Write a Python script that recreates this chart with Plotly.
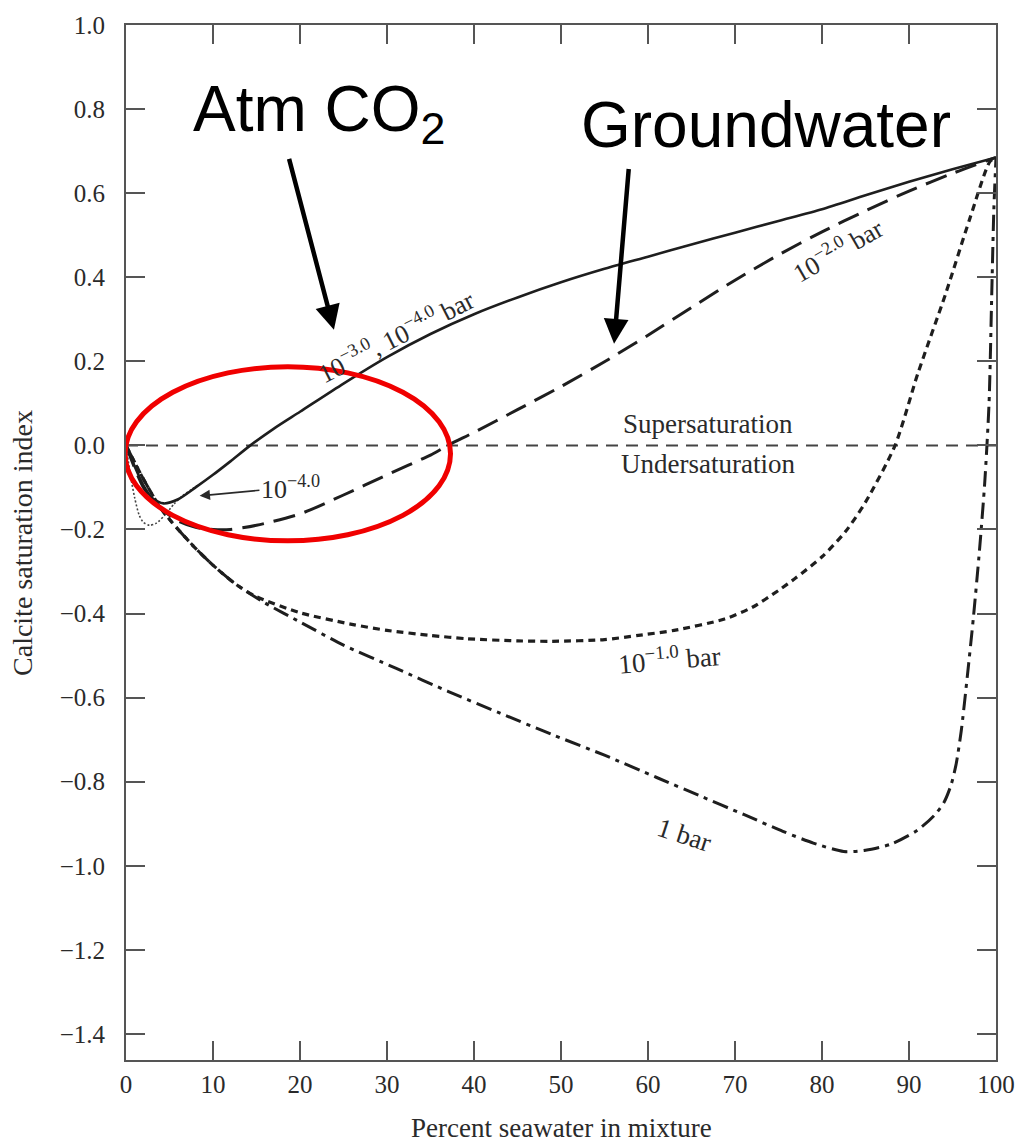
import plotly.graph_objects as go

# ---- data ----
x_ticks = [0, 10, 20, 30, 40, 50, 60, 70, 80, 90, 100]
y_ticks = [-1.4, -1.2, -1.0, -0.8, -0.6, -0.4, -0.2, 0.0, 0.2, 0.4, 0.6, 0.8, 1.0]

# 10^-3.0, 10^-4.0 bar (solid)
x_solid = [0, 1, 2, 3, 4.3, 6, 8, 10, 12, 14.3, 17, 20, 25, 30, 35, 40, 45, 50, 55, 60, 65, 70, 75, 80, 85, 90, 95, 100]
y_solid = [0, -0.05, -0.095, -0.125, -0.138, -0.128, -0.1, -0.07, -0.038, 0, 0.04, 0.08, 0.147, 0.21, 0.265, 0.312, 0.352, 0.388, 0.42, 0.449, 0.478, 0.506, 0.534, 0.562, 0.595, 0.627, 0.657, 0.685]

# 10^-4.0 (thin dotted loop)
x_p4 = [0, 0.5, 1, 1.5, 2, 2.7, 3.5, 4.5, 5.5, 6.5, 7.5, 8.5]
y_p4 = [0, -0.07, -0.125, -0.165, -0.183, -0.19, -0.185, -0.165, -0.14, -0.12, -0.105, -0.092]

# 10^-2.0 bar (long dash)
x_p2 = [0, 2, 4, 6, 8, 10, 12, 15, 20, 25, 30, 35, 37, 40, 45, 50, 55, 60, 65, 70, 75, 80, 85, 90, 95, 100]
y_p2 = [0, -0.1, -0.15, -0.18, -0.195, -0.2, -0.2, -0.19, -0.163, -0.118, -0.07, -0.023, 0, 0.031, 0.085, 0.14, 0.199, 0.262, 0.328, 0.393, 0.453, 0.508, 0.558, 0.605, 0.647, 0.685]

# 10^-1.0 bar (short dash)
x_p1 = [0, 2, 4, 6, 8, 10, 12.6, 15, 20, 25.8, 30, 35, 39.2, 45, 49, 55, 58.9, 63, 68.8, 72, 75, 77, 80, 82.7, 85, 88.4, 91, 94.2, 97, 99.3, 100]
y_p1 = [0, -0.08, -0.15, -0.2, -0.245, -0.285, -0.33, -0.36, -0.398, -0.425, -0.44, -0.452, -0.46, -0.465, -0.466, -0.462, -0.452, -0.44, -0.413, -0.385, -0.345, -0.315, -0.265, -0.205, -0.135, 0, 0.17, 0.36, 0.54, 0.675, 0.685]

# 1 bar (dash-dot)
x_p0 = [0, 2, 4, 6, 8, 10, 12.6, 16, 20, 25, 31, 37, 43, 49, 55, 61, 66, 71, 75.5, 79, 82.5, 85, 88, 91, 93, 94, 94.8, 95.4, 96.0, 96.7, 97.4, 98.1, 98.7, 99.2, 99.5, 99.75, 100]
y_p0 = [0, -0.08, -0.15, -0.2, -0.245, -0.285, -0.33, -0.375, -0.42, -0.475, -0.53, -0.585, -0.637, -0.688, -0.737, -0.79, -0.834, -0.878, -0.918, -0.946, -0.966, -0.963, -0.948, -0.915, -0.878, -0.85, -0.81, -0.76, -0.68, -0.55, -0.41, -0.25, -0.09, 0.1, 0.35, 0.56, 0.685]

ink = "#1e1e1e"
fig = go.Figure()

def add(x, y, dash, width, color=ink):
    fig.add_trace(go.Scatter(x=x, y=y, mode="lines", showlegend=False, hoverinfo="skip",
                             line=dict(color=color, width=width, dash=dash, shape="spline", smoothing=0.7)))

add(x_p4, y_p4, "2px,2px", 1.6, "#444")
add(x_p0, y_p0, "16px,6px,4px,6px", 3)
add(x_p1, y_p1, "7px,5px", 3.2)
add(x_p2, y_p2, "22px,10px", 3)
add(x_solid, y_solid, "solid", 2.6)

serif = "Liberation Serif, Times New Roman, serif"
sans = "Liberation Sans, Arial, sans-serif"
tcol = "#2a2a2a"

ann = []
def lab(x, y, text, size=22, angle=0, font=serif, color=tcol):
    ann.append(dict(x=x, y=y, xref="x", yref="y", text=text, showarrow=False, textangle=angle,
                    xanchor="center", yanchor="middle",
                    font=dict(family=font, size=size, color=color)))

lab(31.0, 0.262, "10<sup>−3.0</sup>, 10<sup>−4.0</sup> bar", 26, -27)
lab(81.8, 0.466, "10<sup>−2.0</sup> bar", 26, -30)
lab(62.5, -0.505, "10<sup>−1.0</sup> bar", 27, -5)
lab(64.2, -0.927, "1 bar", 27, 18)
lab(66.9, 0.05, "Supersaturation", 27)
lab(66.9, -0.045, "Undersaturation", 27)
lab(22.2, 0.79, "Atm CO<sub>2</sub>", 64, 0, sans, "#000")
lab(73.6, 0.762, "Groundwater", 64, 0, sans, "#000")

# 10^-4.0 label with small arrow
ann.append(dict(x=8.46, y=-0.12, xref="x", yref="y", ax=18.9, ay=-0.1, axref="x", ayref="y",
                text="10<sup>−4.0</sup>", showarrow=True, arrowhead=2, arrowsize=1.3, arrowwidth=1.6,
                arrowcolor=tcol, font=dict(family=serif, size=26, color=tcol)))
# big arrows
ann.append(dict(x=23.9, y=0.275, xref="x", yref="y", ax=18.7, ay=0.685, axref="x", ayref="y",
                text="", showarrow=True, arrowhead=2, arrowsize=1.1, arrowwidth=4.5, arrowcolor="#000"))
ann.append(dict(x=56.1, y=0.242, xref="x", yref="y", ax=57.8, ay=0.661, axref="x", ayref="y",
                text="", showarrow=True, arrowhead=2, arrowsize=1.1, arrowwidth=4.5, arrowcolor="#000"))

# axis titles
ann.append(dict(x=-0.119, y=0.5, xref="paper", yref="paper", text="Calcite saturation index", textangle=-90,
                xanchor="center", yanchor="middle",
                showarrow=False, font=dict(family=serif, size=28, color=tcol)))
ann.append(dict(x=0.5, y=-0.0655, xref="paper", yref="paper", text="Percent seawater in mixture",
                xanchor="center", yanchor="middle",
                showarrow=False, font=dict(family=serif, size=27, color=tcol)))

shapes = [
    dict(type="line", xref="x", yref="y", x0=0, x1=100, y0=0, y1=0,
         line=dict(color="#444", width=2, dash="12px,8px"), layer="below"),
    dict(type="circle", xref="x", yref="y", x0=-0.1, x1=37.3, y0=-0.227, y1=0.187,
         line=dict(color="#f00000", width=5)),
]

axis_common = dict(showline=True, linecolor="#555", linewidth=2, mirror="ticks", ticks="inside",
                   ticklen=19, tickwidth=1.5, tickcolor="#555", showgrid=False, zeroline=False,
                   tickfont=dict(family=serif, size=25, color=tcol))

fig.update_layout(
    width=1027, height=1145,
    margin=dict(l=126, r=26, t=21, b=85),
    paper_bgcolor="white", plot_bgcolor="white",
    xaxis=dict(range=[0, 100], tickvals=x_ticks, ticklabelstandoff=1, **axis_common),
    yaxis=dict(range=[-1.462, 1.0], tickvals=y_ticks, tickformat=".1f", ticklabelstandoff=14, **axis_common),
    annotations=ann, shapes=shapes,
)

fig.write_html("out.html")
